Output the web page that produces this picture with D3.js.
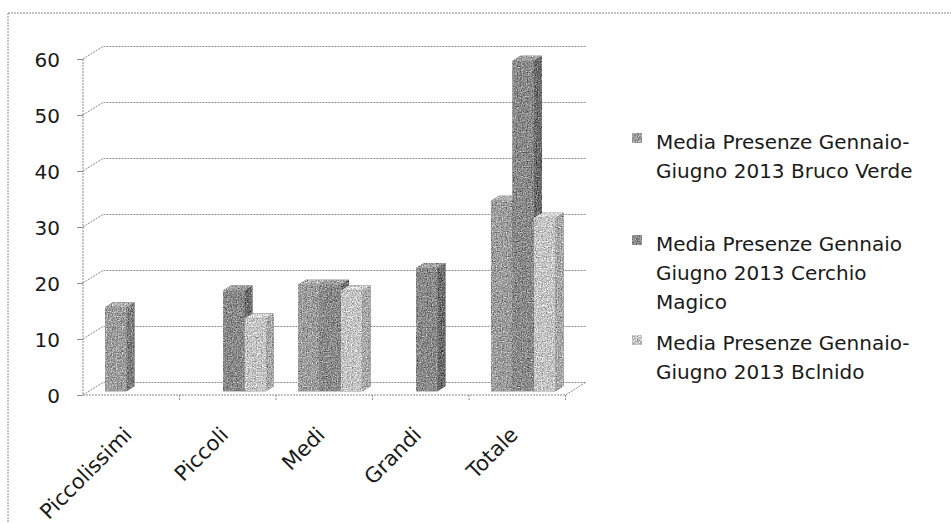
<!DOCTYPE html>
<html>
<head>
<meta charset="utf-8">
<script src="https://cdn.jsdelivr.net/npm/d3@7/dist/d3.min.js"></script>
<style>
  html, body { margin: 0; padding: 0; background: #fff; }
  svg { display: block; }
  text { font-family: "DejaVu Sans", sans-serif; fill: #1a1a1a; }
</style>
</head>
<body>
<svg id="chart" width="951" height="523"></svg>
<script>
// ---- data ----
const categories = ["Piccolissimi", "Piccoli", "Medi", "Grandi", "Totale"];
const seriesNames = [
  ["Media Presenze Gennaio-", "Giugno 2013 Bruco Verde"],
  ["Media Presenze Gennaio", "Giugno 2013 Cerchio", "Magico"],
  ["Media Presenze Gennaio-", "Giugno 2013 Bclnido"]
];
const brucoVerde    = [15, null, 19, null, 34];
const cerchioMagico = [null, 18, 19, 22, 59];
const belnido       = [null, 13, 18, null, 31];
const yTicks = [0, 10, 20, 30, 40, 50, 60];

const seriesValues = [brucoVerde, cerchioMagico, belnido];
const seriesColors = [
  { front: "#9e9e9e", top: "#b4b4b4", side: "#7e7e7e" },
  { front: "#8b8b8b", top: "#a2a2a2", side: "#6c6c6c" },
  { front: "#c6c6c6", top: "#d8d8d8", side: "#a9a9a9" }
];

// ---- layout ----
const svg = d3.select("#chart");
const W = 951, H = 523;
const DX = 20, DY = -12.5;          // full floor depth offset
const t0 = 0.3, tDepth = 0.4;       // bar front depth and bar depth (fractions)

const y = d3.scaleLinear().domain([0, 60]).range([395, 59]);
const x = d3.scaleBand().domain(categories).range([83, 565.5]).paddingInner(0).paddingOuter(0);
const xs = d3.scaleBand().domain([0, 1, 2]).range([16, x.bandwidth() - 16]);

// grain filter
const defs = svg.append("defs");
const f = defs.append("filter").attr("id", "grain")
  .attr("filterUnits", "userSpaceOnUse").attr("x", 0).attr("y", 0).attr("width", W).attr("height", H)
  .attr("color-interpolation-filters", "sRGB");
f.append("feTurbulence").attr("type", "fractalNoise").attr("baseFrequency", 0.8).attr("numOctaves", 2).attr("seed", 3).attr("result", "t");
f.append("feColorMatrix").attr("in", "t").attr("type", "matrix")
  .attr("values", "0.33 0.33 0.33 0 0  0.33 0.33 0.33 0 0  0.33 0.33 0.33 0 0  0 0 0 0 1").attr("result", "g");
f.append("feComposite").attr("in", "SourceGraphic").attr("in2", "g").attr("operator", "arithmetic")
  .attr("k1", 0).attr("k2", 1).attr("k3", 1.5).attr("k4", -0.75).attr("result", "c");
f.append("feComposite").attr("in", "c").attr("in2", "SourceAlpha").attr("operator", "in");

// outer border (top & left)
svg.append("line").attr("x1", 8).attr("y1", 13).attr("x2", W).attr("y2", 13)
  .attr("stroke", "#8a8a8a").attr("stroke-width", 1).attr("stroke-dasharray", "2,1");
svg.append("line").attr("x1", 8).attr("y1", 13).attr("x2", 8).attr("y2", H)
  .attr("stroke", "#8a8a8a").attr("stroke-width", 1).attr("stroke-dasharray", "2,1");

// ---- back wall gridlines ----
const x0 = x.range()[0], x1 = x.range()[1];
const grid = svg.append("g").attr("stroke", "#8e8e8e").attr("stroke-width", 1)
  .attr("stroke-dasharray", "2,1").attr("fill", "none");
yTicks.forEach(v => {
  grid.append("path").attr("d",
    `M${x0},${y(v)} L${x0 + DX},${y(v) + DY} L${x1 + DX},${y(v) + DY}`);
});
// floor right edge and front edge
grid.append("path").attr("d", `M${x0},${y(0)} L${x1},${y(0)} L${x1 + DX},${y(0) + DY}`)
  .attr("stroke", "#8c8c8c");
// category boundary ticks
x.domain().forEach(c => {
  const bx = x(c) + x.bandwidth();
  grid.append("line").attr("x1", bx).attr("x2", bx).attr("y1", y(0)).attr("y2", y(0) + 5).attr("stroke", "#8c8c8c");
});

// ---- y axis ----
const yAxis = svg.append("g").attr("transform", `translate(${x0},0)`)
  .call(d3.axisLeft(y).tickValues(yTicks).tickSize(6).tickPadding(17).tickFormat(d3.format("d")));
yAxis.select(".domain").attr("stroke", "#8c8c8c").attr("stroke-dasharray", "2,1").attr("d", `M0,${y(60)}V${y(0)}`);
yAxis.selectAll(".tick line").attr("stroke", "#8c8c8c");
yAxis.selectAll(".tick text").attr("font-size", 20).attr("font-family", "DejaVu Sans").attr("fill", "#1a1a1a").attr("dy", "0.36em");

// ---- x axis labels ----
const xAxis = svg.append("g").attr("transform", `translate(0,${y(0)})`)
  .call(d3.axisBottom(x).tickSize(0).tickPadding(0));
xAxis.select(".domain").remove();
xAxis.selectAll(".tick text")
  .attr("font-size", 21).attr("font-family", "DejaVu Sans").attr("fill", "#1a1a1a")
  .attr("text-anchor", "end").attr("dy", 0).attr("y", 0)
  .attr("transform", "translate(2,41) rotate(-45)");

// ---- bars ----
const bars = svg.append("g").attr("filter", "url(#grain)");
const ox = DX * t0, oy = DY * t0, ddx = DX * tDepth, ddy = DY * tDepth;
categories.forEach((c, ci) => {
  seriesValues.forEach((vals, si) => {
    const v = vals[ci];
    if (v == null) return;
    const col = seriesColors[si];
    const left = x(c) + xs(si) + ox;
    const right = left + xs.bandwidth();
    const top = y(v) + oy;
    const bottom = y(0) + oy;
    const g = bars.append("g");
    g.append("rect").attr("x", left).attr("y", top).attr("width", right - left).attr("height", bottom - top)
      .attr("fill", col.front);
    g.append("path").attr("d",
      `M${left},${top} L${left + ddx},${top + ddy} L${right + ddx},${top + ddy} L${right},${top} Z`)
      .attr("fill", col.top);
    g.append("path").attr("d",
      `M${right},${top} L${right + ddx},${top + ddy} L${right + ddx},${bottom + ddy} L${right},${bottom} Z`)
      .attr("fill", col.side);
  });
});

// ---- legend ----
const legendLayout = [
  { marker: 133, lines: [149, 178] },
  { marker: 235, lines: [251, 280, 309] },
  { marker: 335, lines: [350, 379] }
];
const legend = svg.append("g");
const legendMarks = svg.append("g").attr("filter", "url(#grain)");
seriesNames.forEach((lines, i) => {
  legendMarks.append("rect").attr("x", 632).attr("y", legendLayout[i].marker)
    .attr("width", 10).attr("height", 10).attr("fill", seriesColors[i].front);
  lines.forEach((ln, j) => {
    legend.append("text").attr("x", 656).attr("y", legendLayout[i].lines[j])
      .attr("font-size", 20).text(ln);
  });
});
</script>
</body>
</html>
